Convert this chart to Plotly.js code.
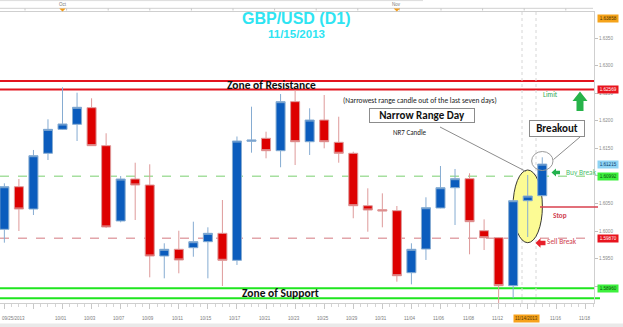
<!DOCTYPE html>
<html><head><meta charset="utf-8">
<script src="https://cdn.plot.ly/plotly-3.0.1.min.js"></script>
<style>html,body{margin:0;padding:0;background:#fff;overflow:hidden}#chart{width:623px;height:327px;}</style>
</head><body><div id="chart"></div>
<script>
// ---------- data ----------
const dates = ['09/25','09/26','09/27','09/30','10/01','10/02','10/03','10/04','10/07','10/08','10/09','10/10','10/11','10/14','10/15','10/16','10/17','10/18','10/21','10/22','10/23','10/24','10/25','10/28','10/29','10/30','10/31','11/01','11/04','11/05','11/06','11/07','11/08','11/11','11/12','11/13','11/14','11/15'];
const openP  = [1.60031,1.60804,1.60399,1.61411,1.61846,1.61937,1.62239,1.61549,1.60182,1.60944,1.60835,1.59546,1.59668,1.59697,1.59806,1.59958,1.59468,1.61629,1.61683,1.61458,1.62348,1.61621,1.62015,1.61610,1.61411,1.60459,1.60387,1.60369,1.59243,1.59673,1.60418,1.60786,1.60950,1.60005,1.59878,1.59007,1.60550,1.60641];
const highP  = [1.60866,1.60944,1.61471,1.62028,1.62609,1.62511,1.62409,1.61774,1.60999,1.61240,1.61211,1.59777,1.60005,1.60169,1.60067,1.60563,1.61716,1.62257,1.61803,1.62487,1.62560,1.62228,1.62469,1.62075,1.61440,1.60775,1.60684,1.60454,1.59777,1.60612,1.61180,1.61126,1.61048,1.60212,1.59890,1.60563,1.61017,1.61338];
const lowP   = [1.59788,1.60000,1.60290,1.61289,1.61834,1.61634,1.61543,1.60054,1.60158,1.60200,1.59159,1.59141,1.59232,1.59533,1.59141,1.59001,1.59383,1.61422,1.61320,1.61157,1.61198,1.61380,1.61501,1.61240,1.60231,1.59987,1.60067,1.59080,1.59032,1.59474,1.60412,1.60109,1.59577,1.59655,1.58566,1.58778,1.59891,1.60635];
const closeP = [1.60804,1.60399,1.61367,1.61846,1.61943,1.62246,1.61549,1.60073,1.60944,1.60835,1.59546,1.59668,1.59474,1.59806,1.59958,1.59468,1.61634,1.61652,1.61458,1.62348,1.61621,1.62015,1.61621,1.61411,1.60459,1.60381,1.60363,1.59188,1.59668,1.60423,1.60786,1.60950,1.60169,1.59878,1.59007,1.60550,1.60635,1.61215];
const tickIdx  = [0,4,6,8,10,12,14,16,18,20,22,24,26,28,30,32,34,36,38,40];
const tickText = ['09/25/2013','10/01','10/03','10/07','10/09','10/11','10/15','10/17','10/21','10/23','10/25','10/29','10/31','11/04','11/06','11/08','11/12','11/14/2013','11/16','11/18'];
const monthIdx  = [4, 27];
const monthText = ['Oct','Nov'];
const yTicks = [1.5900,1.5950,1.6000,1.6050,1.6100,1.6150,1.6200,1.6250,1.6300,1.6350];
const yTickText = ['','1.5950','1.6000','1.6050','','1.6150','1.6200','1.6250','1.6300','1.6350'];
const resistance = [1.62723, 1.62569];
const support = [1.58960, 1.58778];
const buyBreak = 1.60992, sellBreak = 1.59870, stopLevel = 1.60436;
const tagValues = [1.63858, 1.62569, 1.61215, 1.60992, 1.59870, 1.58960];
const tagText   = ['1.63858','1.62569','1.61215','1.60992','1.59870','1.58960'];
const tagBg     = ['#f5a31a','#e8141e','#8ed3f4','#3df03d','#e8141e','#3df03d'];
const tagFg     = ['#4a3000','#ffffff','#0a3a6a','#0a4a0a','#ffffff','#0a4a0a'];
const nr7Index = 36, breakoutIndex = 37;

// ---------- geometry helpers (layout only) ----------
const PW = 594, PT = 12, PB = 303, PH = PB - PT;
const px = x => x / PW;
const py = y => (PB - y) / PH;
const path = pts => 'M' + pts.map(p => px(p[0]).toFixed(5) + ',' + py(p[1]).toFixed(5)).join(' L') + ' Z';
const FC = 'Carlito, Lato, sans-serif';
const FA = 'Liberation Sans, Arial, sans-serif';

const idx = dates.map((d, i) => i);
const trace = {
  type: 'candlestick', x: idx, open: openP, high: highP, low: lowP, close: closeP,
  increasing: {line: {color: '#86acd2', width: 1}, fillcolor: '#0b5cbd'},
  decreasing: {line: {color: '#de9a9a', width: 1}, fillcolor: '#dd0000'},
  whiskerwidth: 0, hoverinfo: 'skip', showlegend: false
};

const shapes = [];
shapes.push({type:'line', xref:'paper', yref:'y', x0:0, x1:1, y0:resistance[0], y1:resistance[0], line:{color:'#e3141e', width:2}, layer:'below'});
shapes.push({type:'line', xref:'paper', yref:'y', x0:0, x1:1, y0:resistance[1], y1:resistance[1], line:{color:'#e3141e', width:2}, layer:'below'});
shapes.push({type:'line', xref:'paper', yref:'y', x0:0, x1:1, y0:support[0], y1:support[0], line:{color:'#1fe61f', width:2}, layer:'below'});
shapes.push({type:'line', xref:'paper', yref:'y', x0:0, x1:px(600), y0:support[1], y1:support[1], line:{color:'#1fe61f', width:2}, layer:'below'});
shapes.push({type:'line', xref:'paper', yref:'y', x0:0, x1:1, y0:buyBreak, y1:buyBreak, line:{color:'#a6df9f', width:1.5, dash:'dash'}, layer:'below'});
shapes.push({type:'line', xref:'paper', yref:'y', x0:0, x1:1, y0:sellBreak, y1:sellBreak, line:{color:'#e2a5aa', width:1.5, dash:'dash'}, layer:'below'});
shapes.push({type:'line', xref:'paper', yref:'y', x0:px(540), x1:px(598), y0:stopLevel, y1:stopLevel, line:{color:'#d9404e', width:1.5}});
[522, 536].forEach(x => shapes.push({type:'line', xref:'paper', yref:'paper', x0:px(x), x1:px(x), y0:0, y1:1, line:{color:'#d6d6d6', width:1, dash:'dot'}, layer:'below'}));
shapes.push({type:'circle', xref:'x', yref:'paper', x0:nr7Index-1.01, x1:nr7Index+1.01, y0:py(242.7), y1:py(170), fillcolor:'#fcfb94', line:{color:'#222', width:0.9}, layer:'below'});
shapes.push({type:'circle', xref:'x', yref:'paper', x0:breakoutIndex-0.73, x1:breakoutIndex+0.74, y0:py(170.5), y1:py(151.5), line:{color:'#9a9a9a', width:1}});
shapes.push({type:'line', xref:'paper', yref:'paper', x0:px(440), y0:py(127), x1:px(526), y1:py(171.5), line:{color:'#8c8c8c', width:1}});
shapes.push({type:'line', xref:'paper', yref:'paper', x0:px(580), y0:py(137), x1:px(553.5), y1:py(159.5), line:{color:'#8c8c8c', width:1}});
shapes.push({type:'path', xref:'paper', yref:'paper', path: path([[580,91.5],[587.5,101],[583.5,101],[583.5,111],[576.5,111],[576.5,101],[572.5,101]]), fillcolor:'#27b34a', line:{width:0}});
shapes.push({type:'path', xref:'paper', yref:'paper', path: path([[551.5,172.5],[556,168.5],[556,170.8],[560,170.8],[560,174.2],[556,174.2],[556,176.5]]), fillcolor:'#22b14c', line:{width:0}});
shapes.push({type:'path', xref:'paper', yref:'paper', path: path([[535.5,243],[540.5,238.3],[540.5,240.8],[545.5,240.8],[545.5,245.2],[540.5,245.2],[540.5,247.7]]), fillcolor:'#e8202a', line:{width:0}});
shapes.push({type:'line', xref:'paper', yref:'paper', x0:0, x1:px(423), y0:py(0.6), y1:py(0.6), line:{color:'#dcdcdc', width:1}});
shapes.push({type:'line', xref:'paper', yref:'paper', x0:0, x1:px(593), y0:py(8.3), y1:py(8.3), line:{color:'#d0d0d0', width:1}});
for (let x = 25; x < 593; x += 41.6) shapes.push({type:'line', xref:'paper', yref:'paper', x0:px(x), x1:px(x), y0:py(8.3), y1:py(10.5), line:{color:'#c8c8c8', width:1}});
monthIdx.forEach(i => {
  shapes.push({type:'path', xref:'x', yref:'paper', path:'M' + (i-0.22) + ',' + py(8.6).toFixed(5) + ' L' + (i+0.22) + ',' + py(8.6).toFixed(5) + ' L' + i + ',' + py(11.6).toFixed(5) + ' Z', fillcolor:'#f39c1a', line:{width:0}});
});
shapes.push({type:'rect', xref:'paper', yref:'paper', x0:0, x1:px(623), y0:py(327), y1:py(323.5), fillcolor:'#e9e9e9', line:{width:0}});

const annotations = [];
const note = (x, y, text, font, extra) => annotations.push(Object.assign({xref:'paper', yref:'paper', x:px(x), y:py(y), xanchor:'center', yanchor:'middle', text:text, showarrow:false, font:font}, extra || {}));
note(296, 18.4, '<b>GBP/USD (D1)</b>', {family:FA, size:16, color:'#2ee4f2'});
note(296, 33.6, '<b>11/15/2013</b>', {family:FA, size:11.5, color:'#2ee4f2'});
note(271, 85, '<b>Zone of Resistance</b>', {family:FC, size:11.5, color:'#111'});
note(280.5, 293, '<b>Zone of Support</b>', {family:FC, size:11.5, color:'#111'});
note(420.3, 100, '(Narrowest range candle out of the last seven days)', {family:FC, size:7.4, color:'#1a1a1a'});
note(421.7, 116, '<b>Narrow Range Day</b>', {family:FC, size:11, color:'#111'}, {bgcolor:'#fff', bordercolor:'#8c8c8c', borderwidth:1, borderpad:0, width:104, height:13});
note(409, 132.7, 'NR7 Candle', {family:FC, size:7, color:'#1a1a1a'});
note(557, 128.7, '<b>Breakout</b>', {family:FC, size:11, color:'#111'}, {bgcolor:'#fff', bordercolor:'#8c8c8c', borderwidth:1, borderpad:0, width:54, height:14.5});
note(550, 94, 'Limit', {family:FC, size:7, color:'#35a956'});
note(581, 172, 'Buy Break', {family:FC, size:7.4, color:'#4fbf6e'});
note(559.5, 215, '<b>Stop</b>', {family:FC, size:7.2, color:'#d0404e'});
note(561.7, 241.5, 'Sell Break', {family:FC, size:7.4, color:'#d0404e'});
monthIdx.forEach((m, i) => annotations.push({xref:'x', yref:'paper', x:m, y:py(4.3), xanchor:'center', yanchor:'middle', text:monthText[i], showarrow:false, font:{family:FA, size:4.5, color:'#777'}}));
tickIdx.forEach((t, i) => {
  const a = {xref:'x', yref:'paper', x:t, y:py(318.5), xanchor:'center', yanchor:'middle', text:tickText[i], showarrow:false, font:{family:FA, size:4.5, color:'#7a7a7a'}, xshift:-1.5, borderpad:1};
  if (i === 0) { a.x = -0.3; a.xanchor = 'left'; a.xshift = 0; }
  if (tickText[i] === '11/14/2013') { a.bgcolor = '#f7a21b'; a.font.color = '#5a3a00'; }
  annotations.push(a);
});
tagValues.forEach((v, i) => annotations.push({xref:'paper', yref:'y', x:1, xanchor:'left', xshift:3, y:v, yanchor:'middle', text:tagText[i], showarrow:false, font:{family:FA, size:4.6, color:tagFg[i]}, bgcolor:tagBg[i], borderpad:1.2, width:18}));

const layout = {
  width: 623, height: 327, autosize: false,
  margin: {l: 0, r: 29, t: 12, b: 24, pad: 0},
  paper_bgcolor: '#fff', plot_bgcolor: '#fff',
  showlegend: false, boxgap: 0.38, boxgroupgap: 0,
  xaxis: {range: [-0.3, 40.56], showgrid: false, zeroline: false, showline: true, mirror: true, linecolor: '#cfcfcf', linewidth: 1,
          ticks: 'outside', tickmode: 'linear', tick0: 0, dtick: 2, ticklen: 5, tickcolor: '#c8c8c8', showticklabels: false,
          minor: {ticks: 'outside', dtick: 0.5, ticklen: 2.5, tickcolor: '#d4d4d4'},
          rangeslider: {visible: false}, fixedrange: true},
  yaxis: {side: 'right', range: [1.58693, 1.63976], showgrid: false, zeroline: false, showline: true, mirror: true, linecolor: '#cfcfcf',
          tickmode: 'array', tickvals: yTicks, ticktext: yTickText, ticks: 'outside', ticklen: 3, tickcolor: '#c0c0c0',
          tickfont: {family: FA, size: 4.6, color: '#8a8a8a'}, fixedrange: true},
  shapes: shapes, annotations: annotations
};
Plotly.newPlot('chart', [trace], layout, {staticPlot: true, displayModeBar: false});
</script>
</body></html>
